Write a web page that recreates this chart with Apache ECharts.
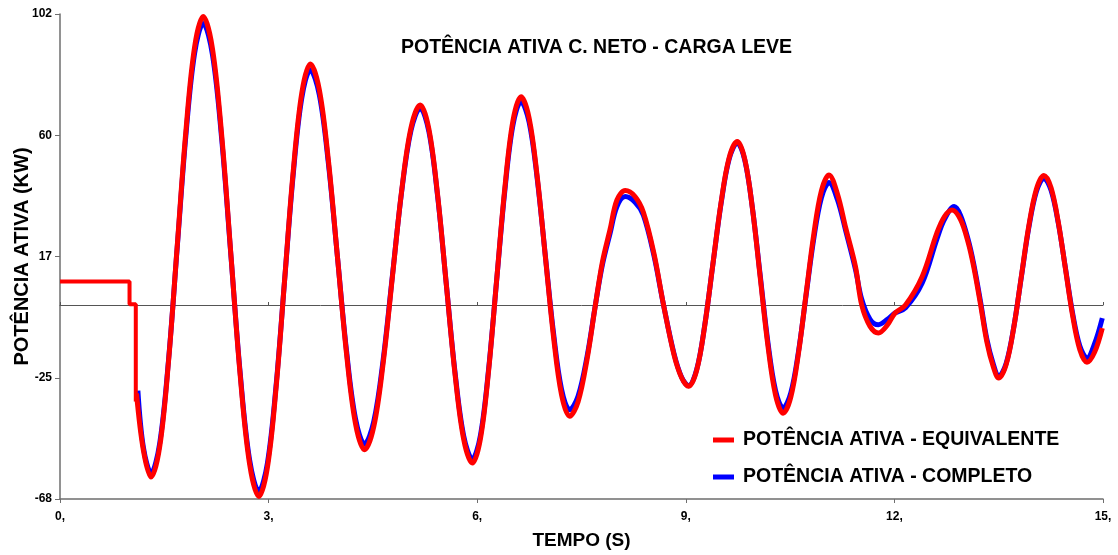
<!DOCTYPE html>
<html>
<head>
<meta charset="utf-8">
<title>Potência ativa C. Neto - carga leve</title>
<script src="https://cdn.jsdelivr.net/npm/echarts@6/dist/echarts.min.js"></script>
<style>
  html, body { margin: 0; padding: 0; background: #fff; }
  #chart { width: 1118px; height: 555px; }
</style>
</head>
<body>
<div id="chart"></div>
<script>
// valores (tempo em s, potencia em kW)
const xTickValues = [0, 3, 6, 9, 12, 15];
const yTickValues = [-68, -25.5, 17, 59.5, 102];
const yTickLabels = ['-68', '-25', '17', '60', '102'];

// degrau inicial (so aparece em vermelho)
const stepTime  = [0, 1.00, 1.00, 1.09, 1.09];
const stepPower = [8.2, 8.2, 0.3, 0.3, -33.8];

const equivTime = [1.10, 1.20, 1.31,
  1.435, 1.56, 1.685, 1.81, 1.935, 2.06,
  2.193, 2.327, 2.46, 2.593, 2.727, 2.86,
  2.983, 3.107, 3.23, 3.353, 3.477, 3.60,
  3.73, 3.86, 3.99, 4.12, 4.25, 4.38,
  4.513, 4.647, 4.78, 4.913, 5.047, 5.18,
  5.305, 5.43, 5.555, 5.68, 5.805, 5.93,
  6.047, 6.163, 6.28, 6.397, 6.513, 6.63,
  6.747, 6.863, 6.98, 7.097, 7.213, 7.33,
  7.45, 7.58, 7.70, 7.80, 7.91, 8.01, 8.13, 8.27, 8.39, 8.54, 8.68, 8.83, 8.94, 9.04,
  9.157, 9.273, 9.39, 9.507, 9.623, 9.74,
  9.85, 9.96, 10.07, 10.18, 10.29, 10.40,
  10.51, 10.62, 10.73, 10.84, 10.95, 11.06,
  11.18, 11.30, 11.44, 11.53, 11.65, 11.77,
  11.90, 12.01, 12.16, 12.40, 12.61, 12.72, 12.83,
  12.95, 13.06, 13.14, 13.24, 13.33, 13.42, 13.50,
  13.608, 13.717, 13.825, 13.933, 14.042, 14.15,
  14.253, 14.357, 14.46, 14.563, 14.667, 14.77,
  14.88, 14.99];
const equivPower = [-31, -51, -60.3,
  -49.5, -20.0, 20.4, 60.8, 90.3, 101.1,
  89.8, 59.1, 17, -25.1, -55.8, -67.1,
  -56.9, -29.2, 8.7, 46.6, 74.3, 84.5,
  75.4, 50.7, 16.9, -16.9, -41.6, -50.7,
  -42.6, -20.5, 9.7, 39.9, 62.0, 70.1,
  61.7, 38.7, 7.4, -24.0, -47.0, -55.4,
  -46.8, -23.3, 8.8, 40.9, 64.4, 73.0,
  65.5, 45.0, 17.0, -11.0, -31.5, -39.0,
  -34, -19, 0, 15, 26.4, 36.8, 40.1, 38, 32.5, 18.3, 0, -17.4, -25.5, -28.5,
  -22.8, -7.1, 14.4, 35.9, 51.6, 57.3,
  50.9, 33.5, 9.7, -14.1, -31.5, -37.9,
  -32.3, -17.0, 3.9, 24.7, 40.0, 45.6,
  39, 27, 13.5, 0, -7.5, -9.8,
  -7, -2.8, 0, 10, 25.2, 31, 33.3,
  30, 22, 13.5, 0, -13, -21.5, -25.6,
  -20.8, -7.9, 9.9, 27.7, 40.6, 45.4,
  41.1, 29.0, 12.7, -3.7, -15.7, -20.1,
  -16.5, -8.1];

const complTime = [1.12, 1.20, 1.31,
  1.435, 1.56, 1.685, 1.81, 1.935, 2.06,
  2.193, 2.327, 2.46, 2.593, 2.727, 2.86,
  2.983, 3.107, 3.23, 3.353, 3.477, 3.60,
  3.73, 3.86, 3.99, 4.12, 4.25, 4.38,
  4.513, 4.647, 4.78, 4.913, 5.047, 5.18,
  5.305, 5.43, 5.555, 5.68, 5.805, 5.93,
  6.047, 6.163, 6.28, 6.397, 6.513, 6.63,
  6.747, 6.863, 6.98, 7.097, 7.213, 7.33,
  7.45, 7.58, 7.70, 7.80, 7.91, 8.01, 8.13, 8.27, 8.39, 8.54, 8.68, 8.83, 8.94, 9.04,
  9.157, 9.273, 9.39, 9.507, 9.623, 9.74,
  9.85, 9.96, 10.07, 10.18, 10.29, 10.40,
  10.51, 10.62, 10.73, 10.84, 10.95, 11.06,
  11.18, 11.30, 11.44, 11.53, 11.65, 11.77,
  11.90, 12.01, 12.16, 12.40, 12.61, 12.72, 12.86,
  12.95, 13.06, 13.14, 13.24, 13.33, 13.42, 13.50,
  13.608, 13.717, 13.825, 13.933, 14.042, 14.15,
  14.253, 14.357, 14.46, 14.563, 14.667, 14.77,
  14.88, 14.99];
const complPower = [-30, -50, -58.9,
  -48.3, -19.5, 19.9, 59.3, 88.1, 98.7,
  87.7, 57.7, 16.7, -24.3, -54.3, -65.3,
  -55.4, -28.4, 8.6, 45.5, 72.5, 82.4,
  73.6, 49.6, 16.9, -15.9, -39.9, -48.7,
  -40.8, -19.3, 10.2, 39.6, 61.1, 69.0,
  60.8, 38.3, 7.5, -23.3, -45.8, -54.0,
  -45.6, -22.7, 8.7, 40.0, 62.9, 71.3,
  64.1, 44.3, 17.3, -9.7, -29.5, -36.7,
  -32, -18, 0, 14, 25, 34.5, 38.0, 36, 31.5, 17.5, 0, -17, -25.3, -28.3,
  -22.6, -7.0, 14.3, 35.5, 51.1, 56.8,
  50.6, 33.6, 10.4, -12.9, -29.9, -36.1,
  -30.8, -16.4, 3.4, 23.2, 37.6, 42.9,
  37, 26, 12.5, 2, -5, -6.9,
  -5, -2.8, -1, 7.7, 23, 30, 34.5,
  31.5, 23, 14.5, 1, -12, -20.5, -25,
  -20.4, -7.7, 9.7, 27.1, 39.8, 44.4,
  40.2, 28.7, 12.9, -2.9, -14.4, -18.6,
  -13.5, -4.6];

const nameEquiv = 'POTÊNCIA ATIVA - EQUIVALENTE';
const nameCompl = 'POTÊNCIA ATIVA - COMPLETO';

function pairs(xs, ys) {
  return xs.map((x, i) => [x, ys[i]]);
}

const font = 'Liberation Sans, Arial, sans-serif';
const axisGray = '#6e6e6e';

let chart = echarts.init(document.getElementById('chart'));
let option = {
  animation: false,
  backgroundColor: '#fff',
  title: {
    text: 'POTÊNCIA ATIVA C. NETO - CARGA LEVE',
    left: 396,
    top: 33,
    textStyle: { fontFamily: font, fontSize: 19.5, fontWeight: 'bold', color: '#000' }
  },
  legend: {
    orient: 'vertical',
    left: 708,
    top: 424,
    itemWidth: 21,
    itemHeight: 5,
    itemGap: 15,
    icon: 'rect',
    data: [nameEquiv, nameCompl],
    textStyle: {
      fontFamily: font, fontSize: 19.5, fontWeight: 'bold', color: '#000',
      lineHeight: 22, padding: [0, 0, 0, 4]
    }
  },
  grid: { left: 60, right: 15, top: 14, bottom: 56, outerBoundsMode: 'none' },
  xAxis: [{
    type: 'value',
    min: 0,
    max: 15,
    interval: 3,
    name: 'TEMPO (S)',
    nameLocation: 'middle',
    nameGap: 32,
    nameMoveOverlap: false,
    nameTextStyle: { fontFamily: font, fontSize: 19, fontWeight: 'bold', color: '#000' },
    axisLine: { onZero: false, lineStyle: { color: axisGray, width: 1.5 } },
    axisTick: { show: true, length: 4, lineStyle: { color: axisGray } },
    axisLabel: {
      margin: 12,
      fontFamily: font, fontSize: 12, fontWeight: 'bold', color: '#000',
      formatter: v => xTickValues.indexOf(v) >= 0 ? v + ',' : ''
    },
    splitLine: { show: false }
  }, {
    // linha do zero com marcas
    type: 'value',
    min: 0,
    max: 15,
    interval: 3,
    position: 'top',
    axisLine: { onZero: true, lineStyle: { color: '#555', width: 1 } },
    axisTick: { show: true, length: 3, lineStyle: { color: '#555' } },
    axisLabel: { show: false },
    splitLine: { show: false }
  }],
  yAxis: {
    type: 'value',
    min: -68,
    max: 102,
    name: 'POTÊNCIA ATIVA (KW)',
    nameLocation: 'middle',
    nameGap: 28,
    nameMoveOverlap: false,
    nameTextStyle: { fontFamily: font, fontSize: 20, fontWeight: 'bold', color: '#000' },
    axisLine: { show: true, lineStyle: { color: axisGray, width: 1.5 } },
    axisTick: { show: true, length: 5, customValues: yTickValues, lineStyle: { color: axisGray } },
    axisLabel: {
      customValues: yTickValues,
      margin: 8,
      fontFamily: font, fontSize: 12, fontWeight: 'bold', color: '#000',
      formatter: v => {
        let i = yTickValues.findIndex(t => Math.abs(t - v) < 0.01);
        return i >= 0 ? yTickLabels[i] : '';
      }
    },
    splitLine: { show: false }
  },
  series: [{
    name: nameCompl,
    type: 'line',
    xAxisIndex: 0,
    data: pairs(complTime, complPower),
    smooth: 0.35,
    showSymbol: false,
    symbol: 'none',
    itemStyle: { color: '#0000ff' },
    lineStyle: { color: '#0000ff', width: 5 }
  }, {
    name: nameEquiv,
    type: 'line',
    xAxisIndex: 0,
    data: pairs(stepTime, stepPower),
    showSymbol: false,
    symbol: 'none',
    itemStyle: { color: '#ff0000' },
    lineStyle: { color: '#ff0000', width: 4 }
  }, {
    name: nameEquiv,
    type: 'line',
    xAxisIndex: 0,
    data: pairs(equivTime, equivPower),
    smooth: 0.35,
    showSymbol: false,
    symbol: 'none',
    itemStyle: { color: '#ff0000' },
    lineStyle: { color: '#ff0000', width: 5 }
  }]
};
chart.setOption(option);
</script>
</body>
</html>
